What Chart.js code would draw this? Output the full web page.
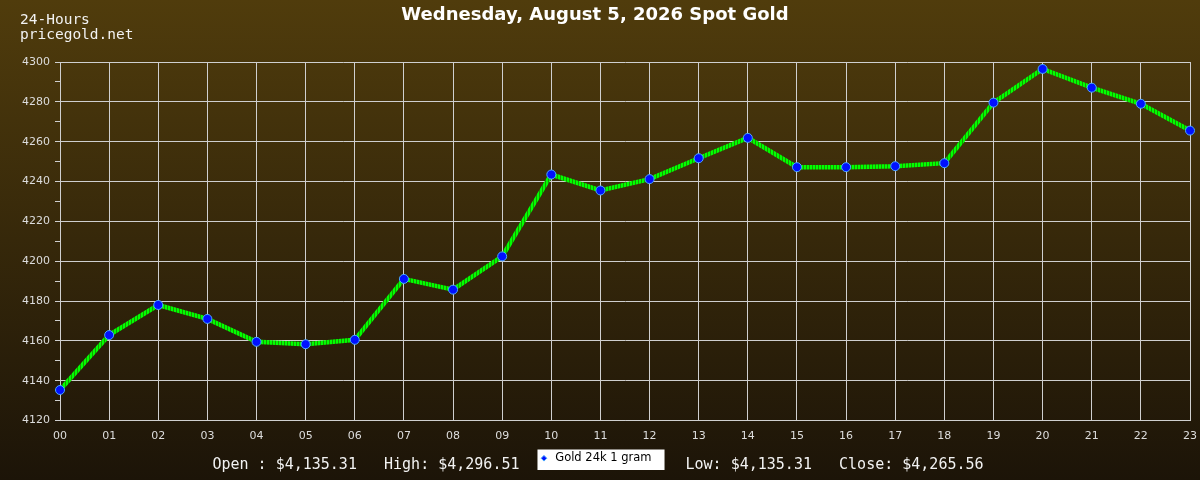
<!DOCTYPE html>
<html>
<head>
<meta charset="utf-8">
<script src="https://cdn.jsdelivr.net/npm/chart.js@4/dist/chart.umd.min.js"></script>
<style>
  html, body { margin: 0; padding: 0; background: #2a1f0a; }
  #wrap { width: 1200px; height: 480px; }
</style>
</head>
<body>
<div id="wrap"><canvas id="goldChart" width="1200" height="480"></canvas></div>
<script>
// 24h spot gold, one point per hour
const hours = ['00','01','02','03','04','05','06','07','08','09','10','11',
               '12','13','14','15','16','17','18','19','20','21','22','23'];
const prices = [4135.31, 4162.9, 4178.0, 4171.0, 4159.5, 4158.3, 4160.5, 4191.1,
                4185.7, 4202.4, 4243.5, 4235.5, 4241.2, 4251.7, 4261.9, 4247.2,
                4247.2, 4247.7, 4249.2, 4279.6, 4296.51, 4287.1, 4279.0, 4265.56];
const yMin = 4120, yMax = 4300;
const seriesName = 'Gold 24k 1 gram';
const titleText = 'Wednesday, August 5, 2026 Spot Gold';
const cornerLines = ['24-Hours', 'pricegold.net'];

const money = v => '$' + v.toLocaleString('en-US', { minimumFractionDigits: 2, maximumFractionDigits: 2 });
const openP = prices[0], closeP = prices[prices.length - 1];
const highP = Math.max(...prices), lowP = Math.min(...prices);

const GRID = '#cfcfcf';
const MONO = '"DejaVu Sans Mono", "Liberation Mono", monospace';

// hatched green stroke, like the original gif-ish line
function hatch() {
  const c = document.createElement('canvas');
  c.width = 3; c.height = 3;
  const x = c.getContext('2d');
  x.fillStyle = '#00ff00';
  x.fillRect(0, 0, 2, 3);
  x.fillStyle = '#179a00';
  x.fillRect(2, 0, 1, 3);
  return x.createPattern(c, 'repeat');
}

// white box behind the legend item
function legendRect(chart) {
  const hb = chart.legend.legendHitBoxes[0];
  if (!hb) return null;
  return { x: hb.left - 1, y: hb.top - 3, w: hb.width + 14, h: hb.height + 9 };
}

// ── background, legend box, extra texts ─────────────
const decor = {
  id: 'decor',
  beforeDraw(chart) {
    const { ctx, width, height } = chart;
    const g = ctx.createLinearGradient(0, 0, 0, height);
    g.addColorStop(0, '#503c0c');
    g.addColorStop(1, '#1c1408');
    ctx.save();
    ctx.fillStyle = g;
    ctx.fillRect(0, 0, width, height);

    const r = legendRect(chart);
    if (r) {
      ctx.fillStyle = '#ffffff';
      ctx.fillRect(r.x, r.y, r.w, r.h);
    }
    ctx.restore();
  },
  afterDraw(chart) {
    const { ctx } = chart;
    ctx.save();
    ctx.fillStyle = '#f2f2f2';
    ctx.font = '14.5px ' + MONO;
    ctx.textBaseline = 'middle';
    ctx.textAlign = 'left';
    ctx.fillText(cornerLines[0], 20, 20);
    ctx.fillText(cornerLines[1], 20, 35);

    const r = legendRect(chart);
    if (r) {
      const cy = r.y + r.h / 2 + 5;
      ctx.font = '15px ' + MONO;
      ctx.textAlign = 'right';
      ctx.fillText('Open : ' + money(openP) + '   High: ' + money(highP), r.x - 18, cy);
      ctx.textAlign = 'left';
      ctx.fillText('Low: ' + money(lowP) + '   Close: ' + money(closeP), r.x + r.w + 21, cy);
    }
    ctx.restore();
  }
};

new Chart(document.getElementById('goldChart'), {
  type: 'line',
  data: {
    labels: hours,
    datasets: [{
      label: seriesName,
      data: prices,
      borderColor: hatch(),
      backgroundColor: '#0000ff',
      borderWidth: 4.5,
      tension: 0,
      fill: false,
      pointRadius: 4.5,
      pointBorderWidth: 1,
      pointBackgroundColor: '#0010ff',
      pointBorderColor: '#4aa8ff'
    }]
  },
  options: {
    responsive: false,
    animation: false,
    devicePixelRatio: 1,
    layout: { padding: { left: 0, right: 10, top: 0, bottom: 6 } },
    plugins: {
      title: {
        display: true,
        text: titleText,
        color: '#ffffff',
        font: { family: '"DejaVu Sans"', size: 18, weight: 'bold' },
        padding: { top: 5, bottom: 35.4 }
      },
      legend: {
        position: 'bottom',
        labels: {
          color: '#000000',
          font: { family: '"DejaVu Sans"', size: 11.5 },
          usePointStyle: true,
          pointStyle: 'rectRot',
          boxWidth: 11,
          boxHeight: 4,
          padding: 10,
          generateLabels(chart) {
            return Chart.defaults.plugins.legend.labels.generateLabels(chart).map(l => {
              l.fillStyle = '#0010ff';
              l.strokeStyle = '#4aa8ff';
              l.lineWidth = 1;
              return l;
            });
          }
        }
      },
      tooltip: { enabled: false }
    },
    scales: {
      x: {
        grid: { color: GRID, drawTicks: false },
        border: { color: GRID },
        ticks: { color: '#dddddd', font: { family: '"DejaVu Sans"', size: 11 }, padding: 9, autoSkip: false, maxRotation: 0 },
        afterFit(scale) {
          scale.height = 22;
          scale.paddingLeft = 0;
          scale.paddingRight = 0;
        }
      },
      y: {
        min: yMin,
        max: yMax,
        grid: {
          color: c => (c.tick && c.tick.value % 20 === 0) ? GRID : 'transparent',
          tickColor: GRID,
          tickLength: 5
        },
        border: { color: GRID },
        ticks: {
          stepSize: 10,
          autoSkip: false,
          color: '#dddddd',
          font: { family: '"DejaVu Sans"', size: 11 },
          padding: 5,
          callback: v => (v % 20 === 0 ? v : '')
        },
        afterFit(scale) { scale.width = 60; }
      }
    }
  },
  plugins: [decor]
});
</script>
</body>
</html>
